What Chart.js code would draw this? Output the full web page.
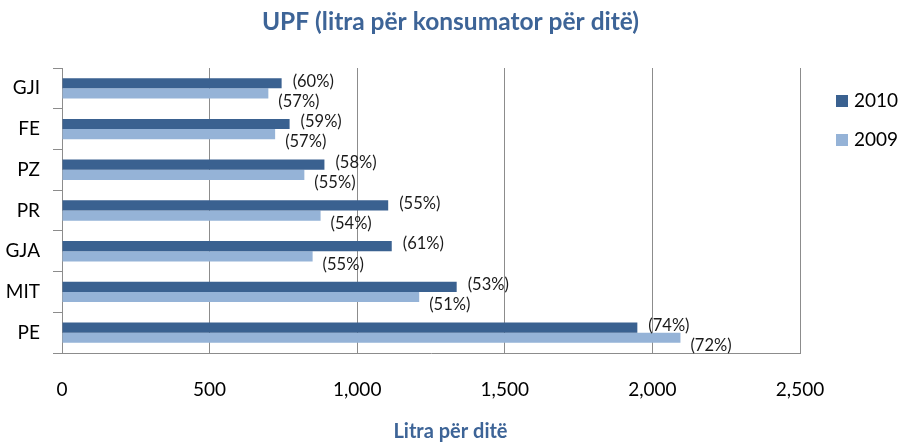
<!DOCTYPE html>
<html>
<head>
<meta charset="utf-8">
<script src="https://cdn.jsdelivr.net/npm/chart.js@4.4.1/dist/chart.umd.min.js"></script>
<style>
  html, body { margin: 0; padding: 0; background: #ffffff; }
  #wrap { width: 901px; height: 442px; }
</style>
</head>
<body>
<div id="wrap"><canvas id="c" width="901" height="442"></canvas></div>
<script>
const categories = ["GJI", "FE", "PZ", "PR", "GJA", "MIT", "PE"];
const values2010 = [744, 771, 889, 1105, 1117, 1337, 1949];
const values2009 = [699, 722, 821, 876, 849, 1210, 2095];
const pct2010 = [60, 59, 58, 55, 61, 53, 74];
const pct2009 = [57, 57, 55, 54, 55, 51, 72];
const seriesNames = ["2010", "2009"];
const xTicks = [0, 500, 1000, 1500, 2000, 2500];

const DARK = "#3A6190";
const LIGHT = "#95B3D7";
const TITLE_BLUE = "#3D6497";
const GRID = "#8C8C8C";
const FONT = "Lato, 'Liberation Sans', sans-serif";

const pctLabels = [pct2010, pct2009];

const labelPlugin = {
  id: 'pctLabels',
  afterDatasetsDraw(chart) {
    const ctx = chart.ctx;
    ctx.save();
    ctx.font = "16.5px " + FONT;
    ctx.fillStyle = "#1a1a1a";
    ctx.textAlign = "left";
    ctx.textBaseline = "middle";
    const offs = [{dx: 11, dy: -2}, {dx: 10, dy: 8}];
    chart.data.datasets.forEach((ds, i) => {
      const meta = chart.getDatasetMeta(i);
      meta.data.forEach((bar, j) => {
        ctx.fillText("(" + pctLabels[i][j] + "%)", bar.x + offs[i].dx, bar.y + offs[i].dy);
      });
    });
    ctx.restore();
  }
};

const legendPlugin = {
  id: 'sideLegend',
  afterDraw(chart) {
    const ctx = chart.ctx;
    ctx.save();
    ctx.font = "19px " + FONT;
    ctx.textAlign = "left";
    ctx.textBaseline = "middle";
    const x0 = chart.chartArea.right + 36;
    const ys = [101, 140];
    chart.data.datasets.forEach((ds, i) => {
      ctx.fillStyle = ds.backgroundColor;
      ctx.fillRect(x0, ys[i] - 6, 12, 12);
      ctx.fillStyle = "#000000";
      ctx.fillText(ds.label, x0 + 18, ys[i]);
    });
    ctx.restore();
  }
};

new Chart(document.getElementById("c"), {
  type: "bar",
  data: {
    labels: categories,
    datasets: [
      { label: seriesNames[0], data: values2010, backgroundColor: DARK, borderWidth: 0,
        categoryPercentage: 0.5, barPercentage: 1.0, yAxisID: "y", xAxisID: "x" },
      { label: seriesNames[1], data: values2009, backgroundColor: LIGHT, borderWidth: 0,
        categoryPercentage: 0.5, barPercentage: 1.0, yAxisID: "y", xAxisID: "x" }
    ]
  },
  options: {
    indexAxis: "y",
    responsive: false,
    animation: false,
    devicePixelRatio: 1,
    layout: { padding: { left: 0, right: 0, top: 0, bottom: 0 } },
    plugins: {
      legend: { display: false },
      tooltip: { enabled: false },
      title: {
        display: true,
        text: "UPF (litra për konsumator për ditë)",
        color: TITLE_BLUE,
        font: { family: FONT, size: 24.5, weight: "bold", lineHeight: 1.2 },
        padding: { top: 7, bottom: 31.6 }
      },
      subtitle: {
        display: true,
        position: "bottom",
        text: "Litra për ditë",
        color: TITLE_BLUE,
        font: { family: FONT, size: 20, weight: "bold", lineHeight: 1.0 },
        padding: { top: 0, bottom: 0 }
      }
    },
    scales: {
      x: {
        min: 0,
        max: 2500,
        afterBuildTicks(scale) { scale.ticks = xTicks.map(v => ({ value: v })); },
        afterFit(scale) { scale.height = 69; },
        grid: { color: GRID, lineWidth: 1, drawTicks: false },
        border: { display: true, color: GRID, width: 1 },
        ticks: { color: "#000000", font: { family: FONT, size: 19 }, padding: 25 }
      },
      y: {
        afterFit(scale) { scale.width = 62; },
        grid: { display: true, drawOnChartArea: false, drawTicks: true, tickLength: 9, color: GRID, offset: true },
        border: { display: true, color: GRID, width: 1 },
        ticks: { color: "#000000", font: { family: FONT, size: 19 }, padding: 13 }
      },
      y2: {
        type: "linear",
        position: "right",
        min: 0,
        max: 1,
        afterFit(scale) { scale.width = 101; },
        grid: { display: false },
        border: { display: false },
        ticks: { display: false }
      }
    }
  },
  plugins: [labelPlugin, legendPlugin]
});
</script>
</body>
</html>
